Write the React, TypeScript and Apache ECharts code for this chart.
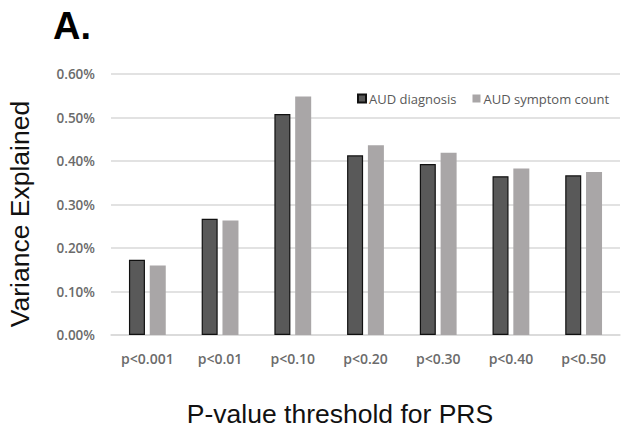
import React, { useEffect, useRef } from "react";
import * as echarts from "echarts";

const categories = ["p<0.001", "p<0.01", "p<0.10", "p<0.20", "p<0.30", "p<0.40", "p<0.50"];
const audDiagnosis = [0.173, 0.267, 0.508, 0.413, 0.393, 0.365, 0.367];
const audSymptomCount = [0.16, 0.263, 0.548, 0.436, 0.419, 0.383, 0.375];
const seriesNames = ["AUD diagnosis", "AUD symptom count"];

export default function App() {
  const ref = useRef<HTMLDivElement>(null);

  useEffect(() => {
    if (!ref.current) return;
    const chart = echarts.init(ref.current, null, { renderer: "svg" });
    chart.setOption({
      animation: false,
      backgroundColor: "#ffffff",
      grid: { left: 111, right: 2, top: 74, bottom: 95, containLabel: false },
      legend: {
        left: 352,
        top: 87,
        itemWidth: 8,
        itemHeight: 8,
        itemGap: 16,
        icon: "rect",
        textStyle: { fontFamily: "Open Sans", fontSize: 13, color: "#595959", padding: [0, 0, 0, -2] },
        data: seriesNames,
      },
      xAxis: {
        type: "category",
        data: categories,
        axisLine: { lineStyle: { color: "#d9d9d9", width: 1.5 } },
        axisTick: { show: false },
        axisLabel: {
          fontFamily: "Open Sans",
          fontWeight: 600,
          fontSize: 14,
          color: "#6b6b6b",
          margin: 16,
        },
      },
      yAxis: {
        type: "value",
        min: 0,
        max: 0.6,
        interval: 0.1,
        axisLine: { show: false },
        axisTick: { show: false },
        splitLine: { lineStyle: { color: "#d9d9d9", width: 1.5 } },
        axisLabel: {
          fontFamily: "Open Sans",
          fontWeight: 600,
          fontSize: 13.5,
          color: "#6b6b6b",
          margin: 16,
          formatter: (v: number) => v.toFixed(2) + "%",
        },
      },
      series: [
        {
          name: seriesNames[0],
          type: "bar",
          data: audDiagnosis,
          barWidth: 16,
          barGap: "30%",
          itemStyle: { color: "#595959", borderColor: "#111111", borderWidth: 1.2 },
        },
        {
          name: seriesNames[1],
          type: "bar",
          data: audSymptomCount,
          barWidth: 16,
          itemStyle: { color: "#a9a6a7" },
        },
      ],
      graphic: [
        {
          type: "text",
          x: 53,
          y: 7,
          style: {
            text: "A.",
            fontFamily: "Liberation Sans",
            fontWeight: "bold",
            fontSize: 38,
            fill: "#000000",
          },
        },
        {
          type: "text",
          x: 20,
          y: 214,
          rotation: Math.PI / 2,
          style: {
            text: "Variance Explained",
            fontFamily: "Liberation Sans",
            fontSize: 26.5,
            fill: "#111111",
            align: "center",
            verticalAlign: "middle",
          },
        },
        {
          type: "text",
          x: 340,
          y: 414,
          style: {
            text: "P-value threshold for PRS",
            fontFamily: "Liberation Sans",
            fontSize: 26.5,
            fill: "#111111",
            align: "center",
            verticalAlign: "middle",
          },
        },
      ],
    });
    return () => chart.dispose();
  }, []);

  return <div ref={ref} style={{ width: 622, height: 430, position: "absolute", left: 0, top: 0 }} />;
}
